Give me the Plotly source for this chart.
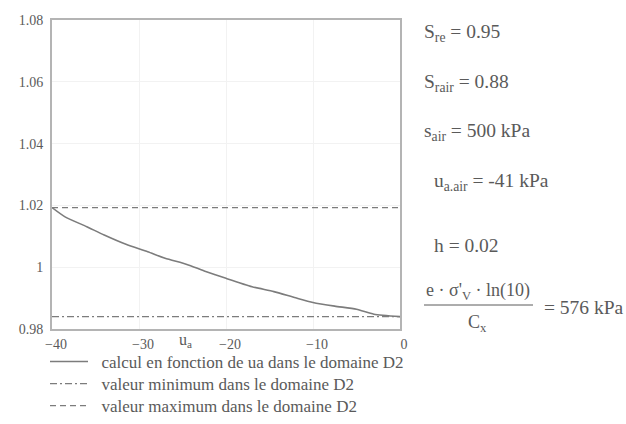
import plotly.graph_objects as go

# Ratio computed as a function of u_a (kPa) over domain D2
ua = [-40, -38.5, -36, -34, -31.5, -29, -27, -24.5, -22.5, -20, -17, -14.5,
      -12, -10, -7.5, -5, -3, 0]
ratio = [1.0193, 1.0163, 1.0131, 1.0104, 1.0074, 1.0050, 1.0029, 1.0009,
         0.9988, 0.9964, 0.9937, 0.9921, 0.9901, 0.9886, 0.9874, 0.9864,
         0.9848, 0.9840]

x_ticks = [-40, -30, -20, -10, 0]
y_ticks = [0.98, 1.00, 1.02, 1.04, 1.06, 1.08]
y_tick_text = ["0.98", "1", "1.02", "1.04", "1.06", "1.08"]

legend_names = [
    "calcul en fonction de ua dans le domaine D2",
    "valeur minimum dans le domaine D2",
    "valeur maximum dans le domaine D2",
]

v_min = min(ratio)
v_max = max(ratio)

W, H = 626, 424
L, R, T, B = 52, 400, 20, 329
PW, PH = R - L, B - T

FONT = "Liberation Serif, Times New Roman, serif"
TXT = "#5a5a5a"
LINE = "#7c7c7c"
PAD = "\u00a0\u00a0"


def px(x):
    return (x - L) / PW


def py(y):
    return (B - y) / PH


fig = go.Figure()
fig.add_trace(go.Scatter(x=ua, y=ratio, mode="lines", name=PAD + legend_names[0],
                         legend="legend",
                         line=dict(color=LINE, width=1.6, shape="spline",
                                   smoothing=0.6)))
fig.add_trace(go.Scatter(x=[ua[0], ua[-1]], y=[v_min, v_min], mode="lines",
                         name=PAD + legend_names[1], legend="legend2",
                         line=dict(color=LINE, width=1.3, dash="7px,3px,2px,3px")))
fig.add_trace(go.Scatter(x=[ua[0], ua[-1]], y=[v_max, v_max], mode="lines",
                         name=PAD + legend_names[2], legend="legend3",
                         line=dict(color=LINE, width=1.3, dash="6px,4px")))

ann = []


def text(x, y, s, size=19.5, xanchor="left"):
    ann.append(dict(x=px(x), y=py(y), xref="paper", yref="paper", text=s,
                    showarrow=False, xanchor=xanchor, yanchor="middle",
                    font=dict(family=FONT, size=size, color=TXT)))


# axis variable label
text(185, 340, "u<sub>a</sub>", size=16, xanchor="center")

# parameter block on the right
text(422, 33, "S<sub>re</sub> = 0.95")
text(422, 83, "S<sub>rair</sub> = 0.88")
text(422, 132, "s<sub>air</sub> = 500 kPa")
text(432, 182, "u<sub>a.air</sub> = -41 kPa")
text(432, 245, "h = 0.02")
text(478, 291, "e · σ'<sub>V</sub> · ln(10)", size=18, xanchor="center")
text(478, 323, "C<sub>x</sub>", size=18, xanchor="center")
text(542, 307, "= 576 kPa")

fig.add_shape(type="line", xref="paper", yref="paper",
              x0=px(424), x1=px(533), y0=py(305), y1=py(305),
              line=dict(color=TXT, width=1))


def legend_box(yc):
    return dict(x=px(45), y=py(yc), xanchor="left", yanchor="middle",
                font=dict(family=FONT, size=17, color=TXT),
                bgcolor="rgba(0,0,0,0)", itemwidth=38)


fig.update_layout(
    width=W, height=H,
    margin=dict(l=L, r=W - R, t=T, b=H - B, autoexpand=False),
    paper_bgcolor="white", plot_bgcolor="white",
    font=dict(family=FONT, color=TXT),
    annotations=ann,
    showlegend=True,
    legend=legend_box(362),
    legend2=legend_box(384),
    legend3=legend_box(406),
    xaxis=dict(range=[-40, 0], tickvals=x_ticks, showgrid=True,
               gridcolor="#f2f2f2", zeroline=False, showline=True, mirror=True,
               linecolor="#b4b4b4", linewidth=2, ticks="",
               tickfont=dict(family=FONT, size=14, color=TXT),
               ticklabelshift=4, ticklabelstandoff=1),
    yaxis=dict(range=[0.98, 1.08], tickvals=y_ticks, ticktext=y_tick_text,
               showgrid=True, gridcolor="#f2f2f2", zeroline=False,
               showline=True, mirror=True, linecolor="#b4b4b4", linewidth=2,
               ticks="", tickfont=dict(family=FONT, size=14, color=TXT),
               ticklabelstandoff=4),
)

fig.write_html("out.html")
